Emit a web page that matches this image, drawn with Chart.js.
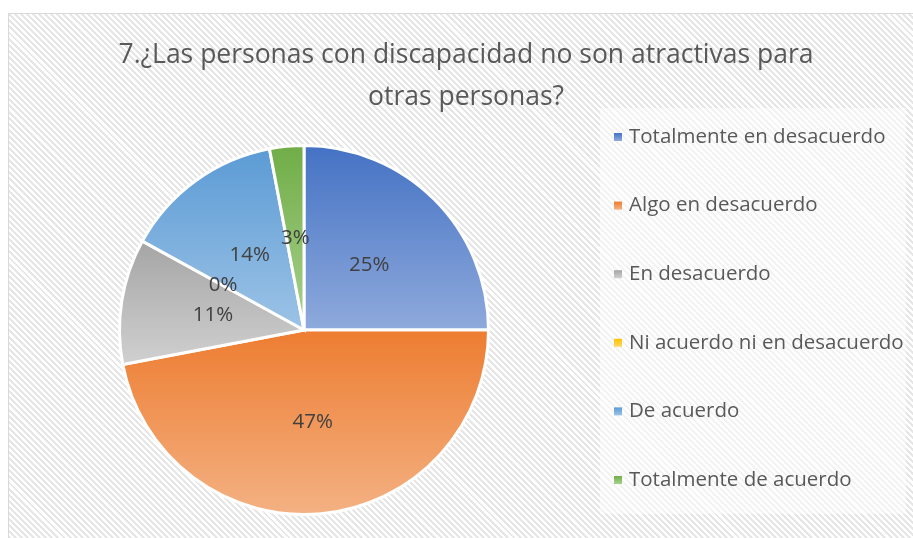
<!DOCTYPE html>
<html>
<head>
<meta charset="utf-8">
<script src="https://cdn.jsdelivr.net/npm/chart.js@4.4.1/dist/chart.umd.min.js"></script>
<style>
  html, body { margin: 0; padding: 0; background: #fff; overflow: hidden; }
  #card {
    position: absolute; left: 8px; top: 13px; width: 920px; height: 540px;
    border-left: 1px solid #d9d9d9; border-top: 1px solid #d9d9d9;
    background: repeating-linear-gradient(45deg, #ffffff 0px, #ffffff 2.2px, #e6e6e6 2.2px, #e6e6e6 4.3px);
  }
  #legendBg {
    position: absolute; left: 600px; top: 108px; width: 306px; height: 406px;
    background: rgba(255, 255, 255, 0.5);
  }
  canvas { position: absolute; left: 0; top: 0; }
</style>
</head>
<body>
<div id="card"></div>
<div id="legendBg"></div>
<canvas id="pie" width="913" height="538"></canvas>
<script>
const titleLines = ['7.¿Las personas con discapacidad no son atractivas para', 'otras personas?'];
const categories = ['Totalmente en desacuerdo', 'Algo en desacuerdo', 'En desacuerdo',
  'Ni acuerdo ni en desacuerdo', 'De acuerdo', 'Totalmente de acuerdo'];
const percents = [25, 47, 11, 0, 14, 3];
const topColors = ['#4472C4', '#ED7D31', '#A5A5A5', '#FFC000', '#5B9BD5', '#70AD47'];
const bottomColors = ['#8FAADC', '#F4B183', '#D0D0D0', '#FFD966', '#9DC3E6', '#A9D18E'];

// vertical gradient over each slice's own bounding box (like Excel's fill)
const sliceGradients = {
  id: 'sliceGradients',
  beforeDatasetsDraw(chart) {
    const ctx = chart.ctx;
    chart.getDatasetMeta(0).data.forEach((arc, i) => {
      const { x, y, startAngle, endAngle, outerRadius } =
        arc.getProps(['x', 'y', 'startAngle', 'endAngle', 'outerRadius']);
      const ys = [y, y + outerRadius * Math.sin(startAngle), y + outerRadius * Math.sin(endAngle)];
      for (let k = -1; k <= 2; k++) {
        const top = -Math.PI / 2 + 2 * Math.PI * k;
        const bot = Math.PI / 2 + 2 * Math.PI * k;
        if (top > startAngle && top < endAngle) ys.push(y - outerRadius);
        if (bot > startAngle && bot < endAngle) ys.push(y + outerRadius);
      }
      const y0 = Math.min(...ys), y1 = Math.max(...ys);
      const g = ctx.createLinearGradient(0, y0, 0, Math.max(y1, y0 + 1));
      g.addColorStop(0, topColors[i]);
      g.addColorStop(1, bottomColors[i]);
      arc.options.backgroundColor = g;
    });
  }
};

const sliceLabels = {
  id: 'sliceLabels',
  afterDatasetsDraw(chart) {
    const ctx = chart.ctx;
    ctx.save();
    ctx.font = '20.5px "Open Sans"';
    ctx.fillStyle = '#404040';
    ctx.textAlign = 'center';
    ctx.textBaseline = 'middle';
    chart.getDatasetMeta(0).data.forEach((arc, i) => {
      const p = arc.tooltipPosition();
      ctx.fillText(percents[i] + '%', p.x, p.y);
    });
    ctx.restore();
  }
};

const titleAndLegend = {
  id: 'titleAndLegend',
  afterDraw(chart) {
    const ctx = chart.ctx;
    ctx.save();
    ctx.textBaseline = 'middle';
    // title
    ctx.font = '26.5px "Open Sans"';
    ctx.fillStyle = '#595959';
    ctx.textAlign = 'center';
    ctx.fillText(titleLines[0], 466, 55);
    ctx.fillText(titleLines[1], 466, 97);
    // legend
    ctx.font = '20.5px "Open Sans"';
    ctx.textAlign = 'left';
    categories.forEach((c, i) => {
      const cy = 137 + i * 68.6;
      const g = ctx.createLinearGradient(0, cy - 4, 0, cy + 4);
      g.addColorStop(0, topColors[i]);
      g.addColorStop(1, bottomColors[i]);
      ctx.fillStyle = g;
      ctx.fillRect(614, cy - 4, 8, 8);
      ctx.fillStyle = '#595959';
      ctx.fillText(c, 629, cy);
    });
    ctx.restore();
  }
};

new Chart(document.getElementById('pie'), {
  type: 'pie',
  data: {
    labels: categories,
    datasets: [{
      data: percents,
      backgroundColor: topColors.slice(),
      borderColor: '#ffffff',
      borderWidth: 3,
      borderJoinStyle: 'miter'
    }]
  },
  options: {
    responsive: false,
    animation: false,
    layout: { padding: { top: 144, bottom: 22, left: 104, right: 409 } },
    plugins: {
      legend: { display: false },
      title: { display: false },
      tooltip: { enabled: false }
    }
  },
  plugins: [sliceGradients, sliceLabels, titleAndLegend]
});
</script>
</body>
</html>
